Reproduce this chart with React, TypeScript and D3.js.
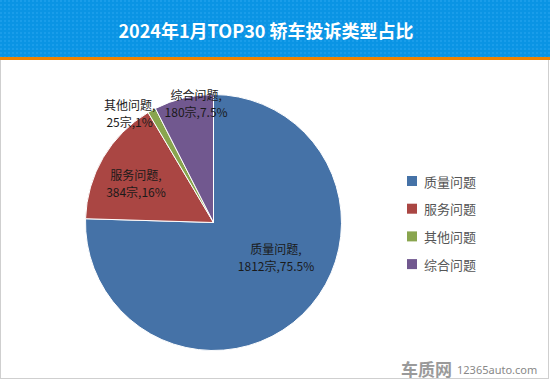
import React, { useEffect, useRef } from "react";
import * as d3 from "d3";

const title = "2024年1月TOP30 轿车投诉类型占比";
const categories = ["质量问题", "服务问题", "其他问题", "综合问题"];
const counts = [1812, 384, 25, 180];
const percents = ["75.5%", "16%", "1%", "7.5%"];
const colors = ["#4572A7", "#AA4643", "#89A54E", "#71588F"];
// label placement: radius factor and angle shift (radians) relative to slice mid-angle
const labelRadius = [0.556, 0.68, 1.075, 0.944];
const labelAngleShift = [-0.302, -0.06, -0.152, 0.091];

export default function App() {
  const ref = useRef<SVGSVGElement | null>(null);
  useEffect(() => {
    const W = 550, H = 380;
    const svg = d3.select(ref.current);
    svg.selectAll("*").remove();
    svg.attr("width", W).attr("height", H);

    const defs = svg.append("defs");
    const pat = defs.append("pattern").attr("id", "dots").attr("width", 4).attr("height", 4).attr("patternUnits", "userSpaceOnUse");
    pat.append("rect").attr("width", 4).attr("height", 4).attr("fill", "#0A94E4");
    pat.append("rect").attr("x", 0).attr("y", 0).attr("width", 2).attr("height", 2).attr("fill", "#1A9DEA");

    svg.append("rect").attr("x", 0).attr("y", 0).attr("width", W).attr("height", H).attr("fill", "#fff");
    svg.append("rect").attr("x", 0.5).attr("y", 0.5).attr("width", W - 2).attr("height", H - 2).attr("fill", "none").attr("stroke", "#cfcfcf");
    svg.append("rect").attr("x", 0).attr("y", 0).attr("width", W).attr("height", 57).attr("fill", "url(#dots)");
    svg.append("rect").attr("x", 0).attr("y", 57).attr("width", W).attr("height", 3).attr("fill", "#F08300");
    svg.append("text").attr("x", 266).attr("y", 30).attr("text-anchor", "middle").attr("dominant-baseline", "central")
      .attr("fill", "#fff").attr("font-size", 18).attr("font-weight", "bold")
      .attr("font-family", "'Noto Sans CJK SC', 'Noto Sans', sans-serif").text(title);

    const cx = 213.5, cy = 222.5, R = 128;
    const pie = d3.pie<number>().value((d) => d).sort(null);
    const arcs = pie(counts);
    const arc = d3.arc<d3.PieArcDatum<number>>().innerRadius(0).outerRadius(R);
    const g = svg.append("g").attr("transform", `translate(${cx},${cy})`);
    g.selectAll("path").data(arcs).enter().append("path")
      .attr("d", arc as any).attr("fill", (_, i) => colors[i]).attr("stroke", "#fff").attr("stroke-width", 1);

    const lbl = g.selectAll("g.lbl").data(arcs).enter().append("g").attr("class", "lbl")
      .attr("transform", (d, i) => {
        const a = (d.startAngle + d.endAngle) / 2 + labelAngleShift[i];
        const r = R * labelRadius[i];
        return `translate(${r * Math.sin(a)},${-r * Math.cos(a)})`;
      });
    lbl.append("text").attr("text-anchor", "middle").attr("y", -8.5).attr("dominant-baseline", "central")
      .attr("font-size", 12).attr("fill", "#1a1a1a").attr("font-family", "'Noto Sans CJK SC', sans-serif")
      .text((_, i) => categories[i] + ",");
    lbl.append("text").attr("text-anchor", "middle").attr("y", 8.5).attr("dominant-baseline", "central")
      .attr("font-size", 12).attr("fill", "#1a1a1a").attr("font-family", "'Noto Sans CJK SC', sans-serif")
      .text((_, i) => `${counts[i]}宗,${percents[i]}`);

    const leg = svg.append("g").attr("transform", "translate(407,181)");
    const items = leg.selectAll("g").data(categories).enter().append("g")
      .attr("transform", (_, i) => `translate(0,${i * 27.7})`);
    items.append("rect").attr("x", 0).attr("y", -5).attr("width", 10).attr("height", 10).attr("fill", (_, i) => colors[i]);
    items.append("text").attr("x", 17).attr("y", 0).attr("dominant-baseline", "central").attr("font-size", 13)
      .attr("fill", "#555").attr("font-family", "'Noto Sans CJK SC', sans-serif").text((d) => d);

    svg.append("text").attr("x", 401).attr("y", 368).attr("dominant-baseline", "central").attr("font-size", 17)
      .attr("font-weight", "bold").attr("fill", "#9a9a9a").attr("font-family", "'Noto Sans CJK SC', sans-serif").text("车质网");
    svg.append("text").attr("x", 457).attr("y", 369).attr("dominant-baseline", "central").attr("font-size", 11)
      .attr("fill", "#888").attr("font-family", "'Noto Sans', sans-serif").text("12365auto.com");
  }, []);
  return <svg ref={ref} style={{ position: "fixed", left: 0, top: 0 }} />;
}
